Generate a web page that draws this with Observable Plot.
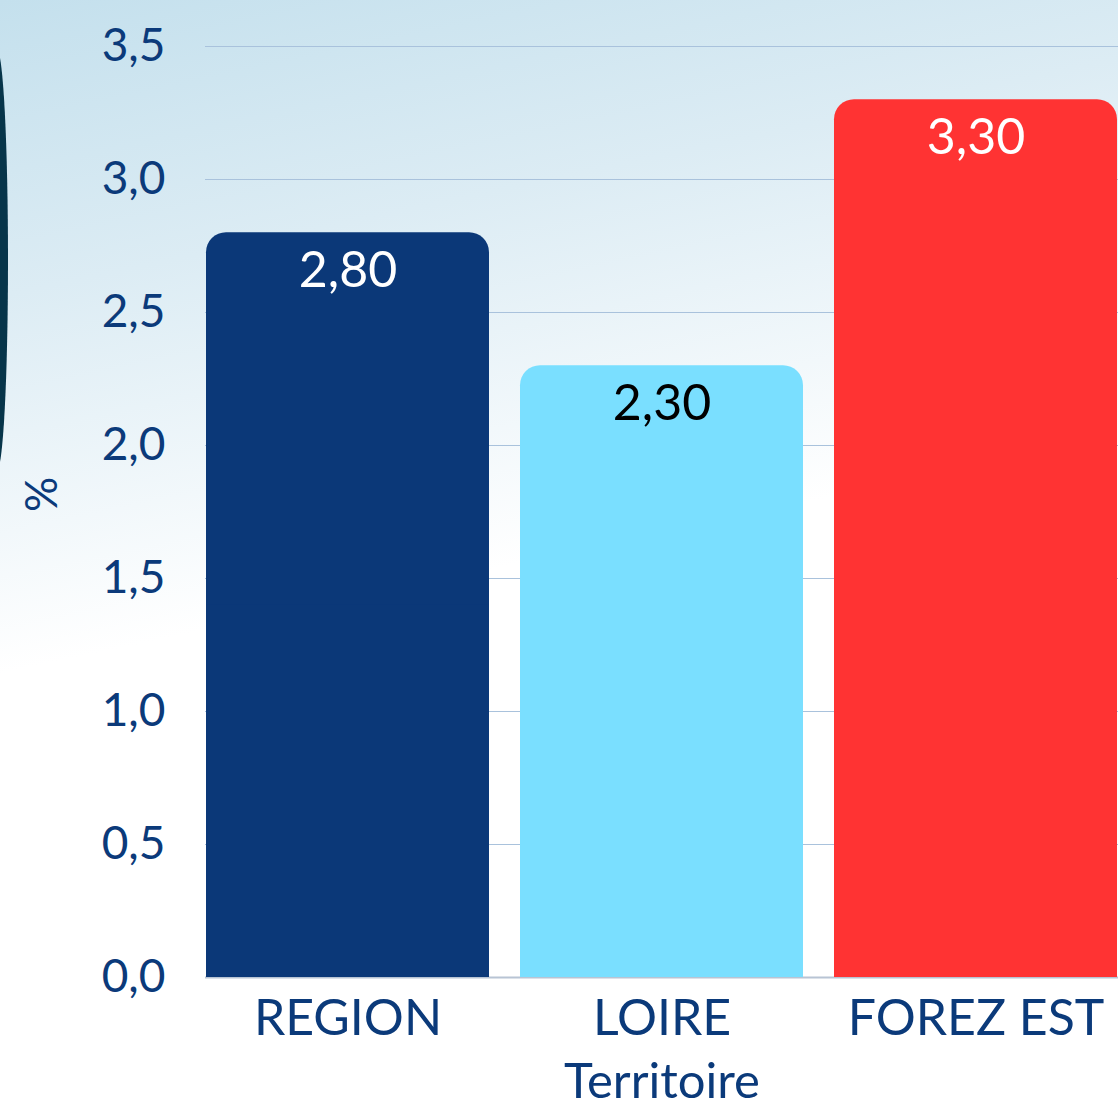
<!DOCTYPE html>
<html>
<head>
<meta charset="utf-8">
<script src="https://cdn.jsdelivr.net/npm/d3@7"></script>
<script src="https://cdn.jsdelivr.net/npm/@observablehq/plot@0.6"></script>
<style>
  html, body { margin: 0; padding: 0; }
  body {
    width: 1118px; height: 1110px; overflow: hidden; position: relative;
    background: linear-gradient(168deg, #c4e0ed 0%, #dcecf4 22%, #ffffff 50%);
    font-family: Lato, "Noto Sans", sans-serif;
  }
  #deco {
    position: absolute; left: -14px; top: 50px; width: 22px; height: 420px;
    border-radius: 50%; background: #07354a;
  }
  #chart { position: absolute; left: 0; top: 0; }
  #chart svg { background: transparent; }
</style>
</head>
<body>
<div id="deco"></div>
<div id="chart"></div>
<script>
const categories = ["REGION", "LOIRE", "FOREZ EST"];
const values = [2.80, 2.30, 3.30];
const barColors = ["#0b3878", "#7adfff", "#ff3333"];
const labelColors = ["#ffffff", "#000000", "#ffffff"];
const yTicks = [0, 0.5, 1, 1.5, 2, 2.5, 3, 3.5];

const data = categories.map((c, i) => ({cat: c, value: values[i], color: barColors[i], lc: labelColors[i]}));
const fmt1 = d3.format(".1f");
const fmt2 = d3.format(".2f");
const comma = s => s.replace(".", ",");

const chart = Plot.plot({
  width: 1118,
  height: 1110,
  marginLeft: 205,
  marginRight: 0,
  marginTop: 46,
  marginBottom: 133,
  style: {background: "transparent", fontFamily: "Lato, 'Noto Sans', sans-serif", color: "#0b3a7a", overflow: "visible"},
  x: {domain: categories, paddingInner: 0.1, paddingOuter: 0, label: null},
  y: {domain: [0, 3.5], label: null},
  marks: [
    Plot.gridY(yTicks, {stroke: "#a9c2dc", strokeOpacity: 1, strokeWidth: 1}),
    Plot.ruleY([0], {stroke: "#b8c4d4", strokeWidth: 2}),
    Plot.barY(data, {x: "cat", y: "value", fill: "color", rx: 20}),
    Plot.barY(data, {x: "cat", y: d => d.value / 2, fill: "color"}),
    Plot.text(data, {x: "cat", y: "value", text: d => comma(fmt2(d.value)), fill: "lc", fontSize: 50, dy: 38, lineAnchor: "middle"}),
    Plot.axisY(yTicks, {tickSize: 0, tickPadding: 40, tickFormat: d => comma(fmt1(d)), fontSize: 46, fill: "#0b3a7a", label: null}),
    Plot.axisX({tickSize: 0, tickPadding: 22, fontSize: 50, fill: "#0b3a7a", label: null}),
    Plot.text(["%"], {frameAnchor: "left", dx: -163, rotate: -90, fontSize: 44, fill: "#0b3a7a"}),
    Plot.text(["Territoire"], {frameAnchor: "bottom", dy: 120, fontSize: 49, fill: "#0b3a7a"})
  ]
});
document.getElementById("chart").appendChild(chart);
</script>
</body>
</html>
